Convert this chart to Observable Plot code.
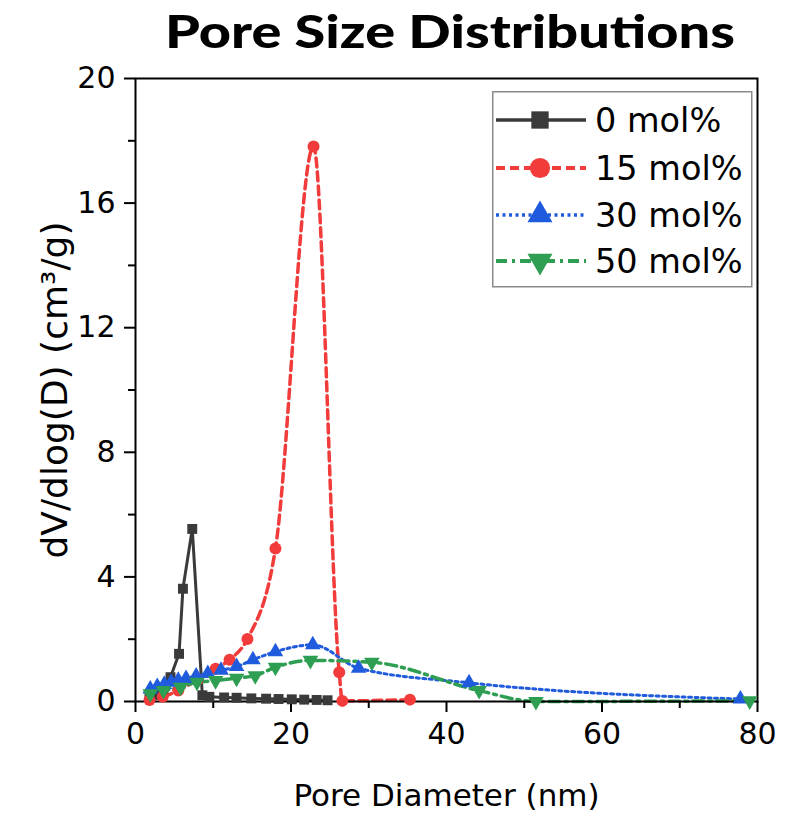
<!DOCTYPE html>
<html><head><meta charset="utf-8">
<script src="https://cdn.jsdelivr.net/npm/d3@7"></script>
<script src="https://cdn.jsdelivr.net/npm/@observablehq/plot@0.6"></script>
<style>
body{margin:0;background:#fff;}
#wrap{position:relative;width:787px;height:817px;overflow:hidden;}
#title{display:block;}
#legend{position:absolute;left:492px;top:91px;}
</style></head><body>
<div id="wrap">
<svg id="title" width="787" height="60"><text x="450" y="48" text-anchor="middle" font-family="Lato" font-weight="900" font-size="46" textLength="570" lengthAdjust="spacingAndGlyphs">Pore Size Distributions</text></svg>
</div>
<script>
// ---- data ----
const seriesNames = ["0 mol%", "15 mol%", "30 mol%", "50 mol%"];
const x0  = [1.8, 2.7, 3.6, 4.5, 5.6, 6.1, 7.3, 8.6, 9.5, 11.4, 13.0, 14.9, 16.8, 18.4, 20.1, 21.7, 23.3, 24.7];
const y0  = [0.15, 0.22, 0.4, 0.78, 1.53, 3.62, 5.54, 0.2, 0.15, 0.13, 0.12, 0.1, 0.09, 0.08, 0.07, 0.06, 0.05, 0.04];
const x15 = [1.8, 3.5, 5.5, 8.0, 10.3, 12.1, 14.4, 18.0, 22.9, 26.2, 26.6, 35.3];
const y15 = [0.05, 0.15, 0.35, 0.7, 1.05, 1.34, 2.01, 4.91, 17.82, 0.94, 0.02, 0.06];
const x30 = [1.9, 2.8, 3.7, 4.6, 5.5, 6.5, 7.8, 9.3, 11.0, 13.0, 15.1, 18.0, 22.8, 28.7, 42.9, 77.8];
const y30 = [0.4, 0.48, 0.55, 0.62, 0.68, 0.74, 0.82, 0.9, 1.0, 1.12, 1.34, 1.6, 1.82, 1.07, 0.6, 0.08];
const x50 = [1.9, 3.6, 5.8, 7.9, 10.3, 13.0, 15.4, 18.0, 22.5, 30.4, 44.2, 51.5, 79.0];
const y50 = [0.25, 0.35, 0.46, 0.62, 0.67, 0.75, 0.83, 1.1, 1.32, 1.26, 0.35, 0.0, 0.02];
const xTicks = [0, 20, 40, 60, 80];
const xMinor = [10, 30, 50, 70];
const yTicks = [0, 4, 8, 12, 16, 20];
const yMinor = [2, 6, 10, 14, 18];
const xLabel = "Pore Diameter (nm)";
const yLabel = "dV/dlog(D) (cm³/g)";

// ---- styles ----
const triDown = {
  draw(ctx, size) {
    const s3 = Math.sqrt(3);
    const y = -Math.sqrt(size / (s3 * 3));
    ctx.moveTo(0, -y * 2);
    ctx.lineTo(-s3 * y, y);
    ctx.lineTo(s3 * y, y);
    ctx.closePath();
  }
};
const styles = [
  {color: "#3a3a3a", dash: null, width: 3, curve: "linear", symbol: "square", r: 5.6, lsym: d3.symbolSquare, lsize: 300},
  {color: "#f23b3b", dash: "9,5", width: 3.5, curve: "monotone-x", symbol: "circle", r: 6, lsym: d3.symbolCircle, lsize: 320},
  {color: "#1f5bdc", dash: "3,3.5", width: 3, curve: "monotone-x", symbol: "triangle", r: 5.8, lsym: d3.symbolTriangle, lsize: 270},
  {color: "#2e9e52", dash: "11,5,3,5", width: 3.5, curve: "monotone-x", symbol: triDown, r: 5.8, lsym: triDown, lsize: 270}
];
const xs = [x0, x15, x30, x50];
const ys = [y0, y15, y30, y50];
const tables = xs.map((arr, i) => arr.map((x, j) => ({series: seriesNames[i], x, y: ys[i][j]})));

const lines = tables.map((t, i) => Plot.line(t, {
  x: "x", y: "y", stroke: styles[i].color, strokeWidth: styles[i].width,
  strokeDasharray: styles[i].dash, curve: styles[i].curve
}));
const dots = tables.map((t, i) => Plot.dot(t, {
  x: "x", y: "y", fill: styles[i].color, symbol: () => styles[i].symbol, r: styles[i].r
}));

const chart = Plot.plot({
  width: 787, height: 757,
  marginTop: 18, marginBottom: 116, marginLeft: 135, marginRight: 30,
  x: {domain: [0, 80]},
  y: {domain: [0, 20]},
  symbol: {type: "identity"},
  style: {fontFamily: "DejaVu Sans", color: "#000", background: "transparent", overflow: "visible"},
  marks: [
    ...lines,
    Plot.frame({stroke: "#000", strokeWidth: 2}),
    Plot.axisX({ticks: xTicks, tickSize: 11, tickPadding: 10, fontSize: 30, strokeWidth: 2, label: null}),
    Plot.axisX({ticks: xMinor, tickSize: 7, tickFormat: () => "", strokeWidth: 2, label: null}),
    Plot.axisY({ticks: yTicks, tickSize: 11, tickPadding: 9, fontSize: 30, strokeWidth: 2, label: null}),
    Plot.axisY({ticks: yMinor, tickSize: 7, tickFormat: () => "", strokeWidth: 2, label: null}),
    Plot.text([xLabel], {text: d => d, frameAnchor: "bottom", dy: 95, fontSize: 31, lineAnchor: "middle"}),
    Plot.text([yLabel], {text: d => d, frameAnchor: "left", dx: -80, rotate: -90, fontSize: 36, textAnchor: "middle", lineAnchor: "middle"}),
    ...dots
  ]
});
document.getElementById("wrap").appendChild(chart);

// ---- legend ----
const lg = d3.select("#wrap").append("svg").attr("id", "legend").attr("width", 262).attr("height", 198);
lg.append("rect").attr("x", 0.75).attr("y", 0.75).attr("width", 259).attr("height", 195)
  .attr("fill", "#fff").attr("stroke", "#8a8a8a").attr("stroke-width", 1.5);
const rowY = [29, 77, 124, 170];
seriesNames.forEach((name, i) => {
  const s = styles[i];
  const g = lg.append("g").attr("transform", `translate(0,${rowY[i]})`);
  g.append("line").attr("x1", 4).attr("x2", 94).attr("y1", 0).attr("y2", 0)
    .attr("stroke", s.color).attr("stroke-width", s.width + 0.5).attr("stroke-dasharray", s.dash);
  g.append("path").attr("transform", "translate(48,0)").attr("d", d3.symbol(s.lsym, s.lsize)()).attr("fill", s.color);
  g.append("text").attr("x", 103).attr("y", 0).attr("dy", "0.36em")
    .attr("font-family", "DejaVu Sans").attr("font-size", 33.5).attr("fill", "#000").text(name);
});
</script>
</body></html>
